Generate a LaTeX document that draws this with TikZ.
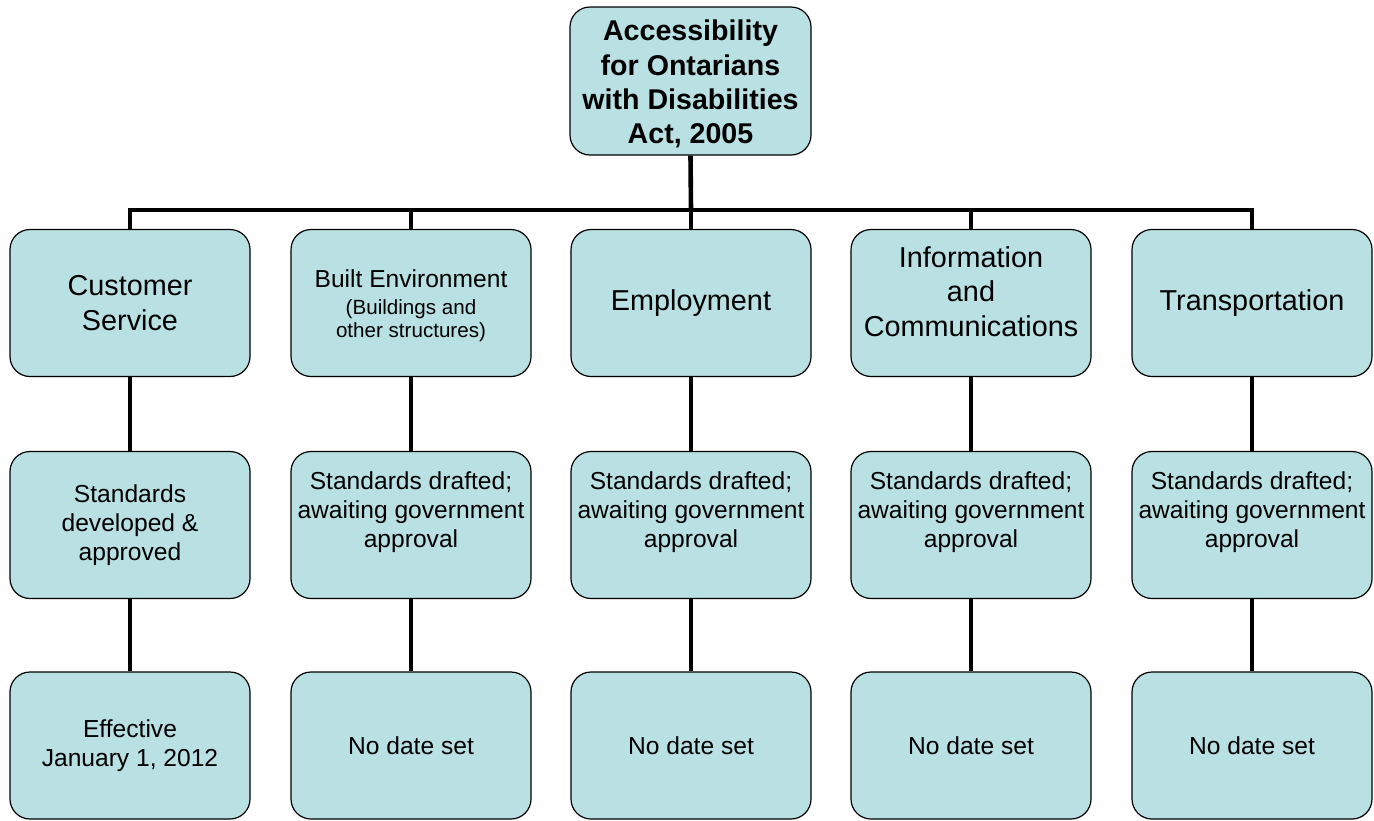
\documentclass[tikz,border=0pt]{standalone}
\usepackage{fontspec}
\setmainfont{Liberation Sans}
\definecolor{boxfill}{RGB}{185,224,227}
\begin{document}
\begin{tikzpicture}[x=1pt,y=-1pt,
  box/.style={draw=black, line width=1.2pt, fill=boxfill, rounded corners=20pt,
    minimum width=240pt, minimum height=147pt, inner sep=0pt, align=center},
  bigtxt/.style={font=\fontsize{28.8}{34.3}\selectfont},
  smalltxt/.style={font=\fontsize{24.6}{29.3}\selectfont},
  subtxt/.style={font=\fontsize{20.6}{23.5}\selectfont},
  titletxt/.style={font=\fontsize{28.6}{34.3}\selectfont\bfseries},
  plain/.style={inner sep=0pt, align=center},
  conn/.style={line width=4.6pt}]
\useasboundingbox (0,0) rectangle (1374,820);

% top
\node[box, minimum width=241pt, minimum height=148pt] (top) at (690.5,81) {};
\node[plain, titletxt] (toptxt) at (690.5,84) {Accessibility\\for Ontarians\\with Disabilities\\Act, 2005};

% row 1
\node[box, bigtxt] (c1) at (130,303) {Customer\\Service};
\node[box] (c2) at (411,303) {};
\node[plain, subtxt] (c2t) at (411,306) {{\fontsize{24.6}{28}\selectfont Built Environment}\\[3pt](Buildings and\\other structures)};
\node[box, bigtxt] (c3) at (691,303) {Employment};
\node[box] (c4) at (971,303) {};
\node[plain, bigtxt] (c4t) at (971,291.5) {Information\\and\\Communications};
\node[box, bigtxt] (c5) at (1252,303) {Transportation};

% row 2
\node[box, smalltxt] (s1) at (130,525) {Standards\\developed \&\\approved};
\node[box] (s2) at (411,525) {};
\node[box] (s3) at (691,525) {};
\node[box] (s4) at (971,525) {};
\node[box] (s5) at (1252,525) {};
\node[plain, smalltxt] (s2t) at (411,512) {Standards drafted;\\awaiting government\\approval};
\node[plain, smalltxt] (s3t) at (691,512) {Standards drafted;\\awaiting government\\approval};
\node[plain, smalltxt] (s4t) at (971,512) {Standards drafted;\\awaiting government\\approval};
\node[plain, smalltxt] (s5t) at (1252,512) {Standards drafted;\\awaiting government\\approval};

% row 3
\node[box, smalltxt] (d1) at (130,745.5) {Effective\\January 1, 2012};
\node[box, smalltxt] (d2) at (411,745.5) {No date set};
\node[box, smalltxt] (d3) at (691,745.5) {No date set};
\node[box, smalltxt] (d4) at (971,745.5) {No date set};
\node[box, smalltxt] (d5) at (1252,745.5) {No date set};

% connectors
\coordinate (bar) at (691,210);
\draw[conn] (top.south) -- (bar);
\draw[conn] (c1.north) -- (c1.north |- bar) -- (c5.north |- bar) -- (c5.north);
\foreach \c in {c2,c3,c4} { \draw[conn] (\c.north) -- (\c.north |- bar); }
\draw[conn] (c1.south) -- (s1.north);
\draw[conn] (c2.south) -- (s2.north);
\draw[conn] (c3.south) -- (s3.north);
\draw[conn] (c4.south) -- (s4.north);
\draw[conn] (c5.south) -- (s5.north);
\draw[conn] (s1.south) -- (d1.north);
\draw[conn] (s2.south) -- (d2.north);
\draw[conn] (s3.south) -- (d3.north);
\draw[conn] (s4.south) -- (d4.north);
\draw[conn] (s5.south) -- (d5.north);
\end{tikzpicture}
\end{document}
